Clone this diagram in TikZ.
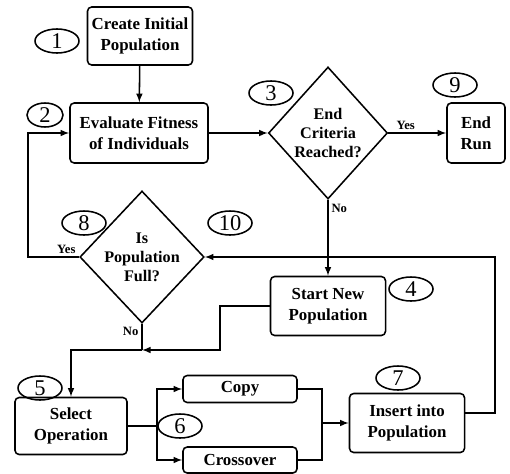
\documentclass[tikz,border=0pt]{standalone}
\usepackage{fontspec}
\setmainfont{Liberation Serif}
\usetikzlibrary{shapes.geometric}

\tikzset{
    box/.style={draw, rounded corners=3pt, align=center, inner sep=0pt,
        font=\bfseries\fontsize{12}{15}\selectfont},
    test/.style={diamond, draw, align=center, inner sep=0pt,
        minimum width=2.975cm, minimum height=3.3cm,
        font=\bfseries\fontsize{11.5}{13.5}\selectfont},
    num/.style={ellipse, draw, inner sep=0pt, minimum width=1.1cm,
        minimum height=0.6cm, font=\fontsize{16}{16}\selectfont},
    lbl/.style={font=\bfseries\fontsize{9}{9}\selectfont, inner sep=2pt}
}

\begin{document}
\begin{tikzpicture}[x=0.025cm,y=-0.025cm,line width=1.1pt]
                    \useasboundingbox (0,0) rectangle (510,473);

                    \node[box, minimum width=2.625cm, minimum height=1.45cm] (init) at (140,36) {Create Initial\\Population};
                    \node[box, minimum width=3.45cm, minimum height=1.5cm] (eval) at (139,133) {Evaluate Fitness\\of Individuals};
                    \node[test] (endc) at (328,133) {End\\Criteria\\Reached?};
                    \node[box, minimum width=1.45cm, minimum height=1.5cm] (endrun) at (476,133) {End\\Run};
                    \node[test] (full) at (142,257) {Is\\Population\\Full?};
                    \node[box, minimum width=2.875cm, minimum height=1.475cm] (startnew) at (328,306) {Start New\\Population};
                    \node[box, minimum width=2.8cm, minimum height=1.425cm] (select) at (71,426) {Select\\Operation};
                    \node[box, minimum width=2.85cm, minimum height=0.675cm] (copy) at (240,389) {Copy};
                    \node[box, minimum width=2.85cm, minimum height=0.65cm] (cross) at (240,460) {Crossover};
                    \node[box, minimum width=2.875cm, minimum height=1.475cm] (insert) at (407,423) {Insert into\\Population};

                    \node[num] (n1) at (57,41) {1};
                    \node[num, minimum width=0.9cm] (n2) at (45,115) {2};
                    \node[num] (n3) at (271,93) {3};
                    \node[num] (n4) at (411,289) {4};
                    \node[num] (n5) at (40,388) {5};
                    \node[num] (n6) at (180,426) {6};
                    \node[num] (n7) at (398,378) {7};
                    \node[num] (n8) at (84,223) {8};
                    \node[num] (n9) at (455,85) {9};
                    \node[num] (n10) at (230,223) {10};

                    \coordinate (k1) at (220,350);
                    \coordinate (j1) at (142,350);
                    \coordinate (k2) at (28,257);
                    \coordinate (k3) at (495,413);
                    \coordinate (j2) at (157,426);
                    \coordinate (j3) at (322,423);

                    \draw[-latex] (init) -- (eval);
                    \draw[-latex] (eval) -- (endc);
                    \draw[-latex] (endc) -- node[lbl, above, pos=0.3] {Yes} (endrun);
                    \draw[-latex] (endc.south) -- node[lbl, right, pos=0.12] {No} (startnew.north);

                    \draw[-latex] (startnew.west) -| (k1) -- (j1);
                    \draw (full.south) -- node[lbl, left, pos=0.3] {No} (j1);
                    \draw[-latex] (j1) -| (select.north);
                    \draw[-latex] (full.west) -- node[lbl, above, pos=0.25] {Yes} (k2) |- (eval.west);

                    \draw (select.east) -- (j2);
                    \draw[-latex] (j2) |- (copy.west);
                    \draw[-latex] (j2) |- (cross.west);
                    \draw (copy.east) -| (j3);
                    \draw (cross.east) -| (j3);
                    \draw[-latex] (j3) -- (insert.west);
                    \draw[-latex] (insert.east |- k3) -- (k3) |- (full.east);

                \end{tikzpicture}
\end{document}
